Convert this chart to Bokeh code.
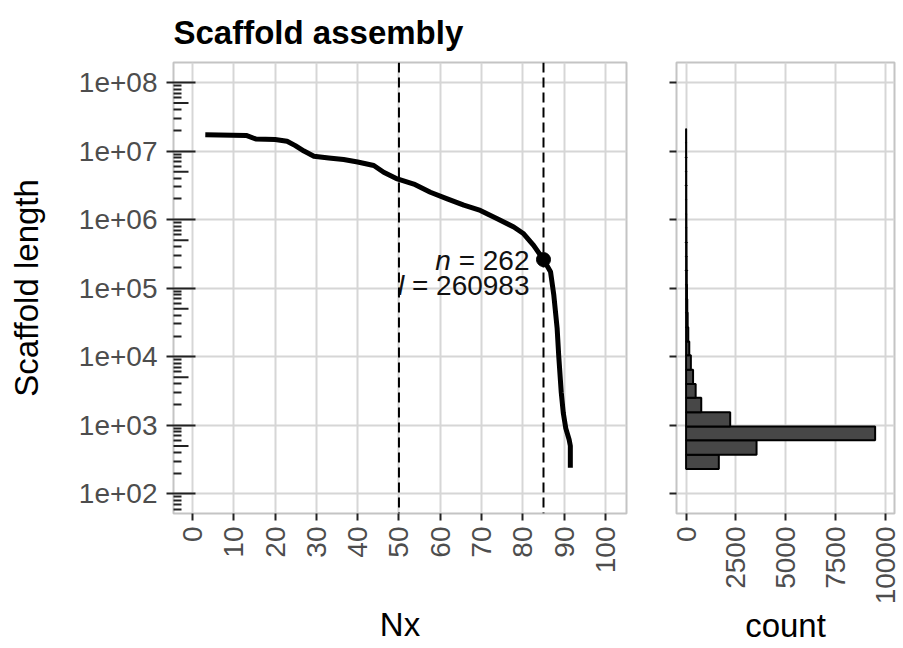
import math
from bokeh.plotting import figure
from bokeh.models import Range1d, FixedTicker, Span, ColumnDataSource
from bokeh.layouts import row
from bokeh.embed import file_html
from bokeh.resources import INLINE
from bokeh.core.properties import value

# ---------------- data ----------------
nx_pct = [3.1, 13.0, 15.3, 20.0, 22.9, 24.9, 27.0, 29.4, 33.0, 36.6, 40.0, 43.9,
          46.3, 49.6, 53.6, 57.6, 61.7, 65.7, 69.7, 73.8, 77.8, 80.2, 82.6, 85.0,
          86.7, 87.5, 88.3, 88.7, 89.3, 89.8, 90.4, 91.2, 91.5, 91.5]
nx_len = [1.73e7, 1.69e7, 1.50e7, 1.47e7, 1.39e7, 1.20e7, 1.00e7, 8.4e6, 7.9e6,
          7.5e6, 6.9e6, 6.15e6, 4.9e6, 3.92e6, 3.3e6, 2.5e6, 2.0e6, 1.62e6,
          1.36e6, 1.03e6, 7.8e5, 6.2e5, 4.2e5, 2.61e5, 1.74e5, 7.9e4, 2.6e4,
          1.0e4, 3.0e3, 1.5e3, 9.0e2, 6.2e2, 5.0e2, 2.4e2]

vlines = [50, 85]
mark_nx = 85
mark_n = 262
mark_l = 260983

hist_log_edges = [2.36, 2.57, 2.78, 2.98, 3.19, 3.40, 3.60, 3.81, 4.02, 4.22,
                  4.43, 4.64, 4.84, 5.05, 5.26, 5.46, 5.67, 5.88, 6.08, 6.29,
                  6.50, 6.70, 6.91, 7.12, 7.32]
hist_counts = [1640, 3530, 9470, 2210, 760, 480, 350, 240, 160, 110, 80, 60,
               45, 35, 28, 22, 17, 13, 10, 8, 6, 4, 3, 2]

y_major = [1e2, 1e3, 1e4, 1e5, 1e6, 1e7, 1e8]
y_labels = ["1e+02", "1e+03", "1e+04", "1e+05", "1e+06", "1e+07", "1e+08"]
x_major = [0, 10, 20, 30, 40, 50, 60, 70, 80, 90, 100]
count_major = [0, 2500, 5000, 7500, 10000]

# ---------------- style ----------------
FONT = "Liberation Sans"
TICK_SIZE = "28px"
TITLE_SIZE = "33px"
GRID = "#d6d6d6"
BORDER = "#c4c4c4"
TICKC = "#222222"
LABC = "#4d4d4d"

y_lo, y_hi = 51.6, 1.955e8
yr = Range1d(y_lo, y_hi)

H = 648
TOP = 60
BOT = 135

# ---------------- main panel ----------------
p = figure(width=636, height=H, x_range=Range1d(-4.6, 105.1), y_range=yr,
           y_axis_type="log", output_backend="svg", toolbar_location=None,
           min_border_left=173, min_border_right=10, min_border_top=TOP,
           min_border_bottom=BOT)
p.outline_line_color = BORDER
p.outline_line_width = 2
p.background_fill_color = "white"

p.title.text = "Scaffold assembly"
p.title.text_font = FONT
p.title.text_font_size = TITLE_SIZE
p.title.text_font_style = "bold"
p.title.text_color = "black"
p.title.standoff = 23

ax = p.yaxis[0]
short_minor = [k * 10 ** d for d in range(1, 9) for k in (2, 3, 4, 6, 7, 8, 9)]
ax.ticker = FixedTicker(ticks=y_major, minor_ticks=short_minor)
ax.major_label_overrides = {v: s for v, s in zip(y_major, y_labels)}
ax.major_tick_in = 22
ax.major_tick_out = 7
ax.minor_tick_in = 8
ax.minor_tick_out = 0
ax.major_tick_line_width = 2
ax.minor_tick_line_width = 2
ax.major_tick_line_color = TICKC
ax.minor_tick_line_color = TICKC
ax.axis_line_color = None
ax.major_label_text_font = FONT
ax.major_label_text_font_size = TICK_SIZE
ax.major_label_text_color = LABC
ax.major_label_standoff = 9
ax.axis_label = "Scaffold length"
ax.axis_label_text_font = FONT
ax.axis_label_text_font_size = TITLE_SIZE
ax.axis_label_text_font_style = "normal"
ax.axis_label_text_color = "black"
ax.axis_label_standoff = 31

bx = p.xaxis[0]
bx.ticker = FixedTicker(ticks=x_major, minor_ticks=[])
bx.major_tick_in = 0
bx.major_tick_out = 7
bx.minor_tick_out = 0
bx.major_tick_line_width = 2
bx.major_tick_line_color = TICKC
bx.axis_line_color = None
bx.major_label_orientation = math.pi / 2
bx.major_label_text_font = FONT
bx.major_label_text_font_size = TICK_SIZE
bx.major_label_text_color = LABC
bx.major_label_standoff = 6
bx.axis_label = "Nx"
bx.axis_label_text_font = FONT
bx.axis_label_text_font_size = TITLE_SIZE
bx.axis_label_text_font_style = "normal"
bx.axis_label_text_color = "black"
bx.axis_label_standoff = 30

for g in (p.xgrid[0], p.ygrid[0]):
    g.grid_line_color = GRID
    g.grid_line_width = 2
p.xgrid[0].ticker = FixedTicker(ticks=x_major)
p.ygrid[0].ticker = FixedTicker(ticks=y_major)

# mid (x5) log ticks, drawn at the panel's left edge
x0 = p.x_range.start
mids = [5 * 10 ** d for d in range(1, 9) if y_lo <= 5 * 10 ** d <= y_hi]
p.scatter(x=[x0] * len(mids), y=mids, marker="dash", size=30,
          line_color=TICKC, line_width=2)

for v in vlines:
    p.add_layout(Span(location=v, dimension="height", line_color="black",
                      line_width=2, line_dash="10 5"))

p.line(nx_pct, nx_len, line_color="black", line_width=5, line_join="round")
p.scatter([mark_nx], [mark_l], size=14, color="black")

# annotation text: italic symbol + regular rest, right aligned
W = {" ": 0.278, "=": 0.584}
def tw(s, size=28):
    return sum(W.get(c, 0.556) for c in s) * size

rest1 = "= %d" % mark_n
rest2 = "= %d" % mark_l
gap = -14
yoffs = [1, 26]
src = ColumnDataSource(dict(x=[mark_nx, mark_nx], y=[mark_l, mark_l],
                            t=[rest1, rest2], yo=yoffs, xo=[gap, gap]))
p.text(x="x", y="y", text="t", x_offset="xo", y_offset="yo", source=src,
       text_align="right", text_baseline="alphabetic",
       text_font=value(FONT), text_font_size=TICK_SIZE, text_color="#111111")
src2 = ColumnDataSource(dict(x=[mark_nx, mark_nx], y=[mark_l, mark_l],
                             t=["n", "l"], yo=yoffs,
                             xo=[gap - tw(" " + rest1), gap - tw(" " + rest2)]))
p.text(x="x", y="y", text="t", x_offset="xo", y_offset="yo", source=src2,
       text_align="right", text_baseline="alphabetic",
       text_font=value(FONT), text_font_size=TICK_SIZE,
       text_font_style="italic", text_color="#111111")

# ---------------- histogram panel ----------------
h = figure(width=267, height=H, x_range=Range1d(-480, 10440), y_range=yr,
           y_axis_type="log", output_backend="svg", toolbar_location=None,
           min_border_left=40, min_border_right=9, min_border_top=TOP,
           min_border_bottom=BOT)
h.outline_line_color = BORDER
h.outline_line_width = 2

hy = h.yaxis[0]
hy.ticker = FixedTicker(ticks=y_major, minor_ticks=[])
hy.major_label_overrides = {v: " " for v in y_major}
hy.major_tick_in = 0
hy.major_tick_out = 7
hy.minor_tick_out = 0
hy.major_tick_line_width = 2
hy.major_tick_line_color = TICKC
hy.axis_line_color = None
hy.major_label_text_font_size = "2px"
hy.major_label_text_color = None
hy.major_label_standoff = 0

hx = h.xaxis[0]
hx.ticker = FixedTicker(ticks=count_major, minor_ticks=[])
hx.major_tick_in = 0
hx.major_tick_out = 7
hx.minor_tick_out = 0
hx.major_tick_line_width = 2
hx.major_tick_line_color = TICKC
hx.axis_line_color = None
hx.major_label_orientation = math.pi / 2
hx.major_label_text_font = FONT
hx.major_label_text_font_size = TICK_SIZE
hx.major_label_text_color = LABC
hx.major_label_standoff = 6
hx.axis_label = "count"
hx.axis_label_text_font = FONT
hx.axis_label_text_font_size = TITLE_SIZE
hx.axis_label_text_font_style = "normal"
hx.axis_label_text_color = "black"
hx.axis_label_standoff = 0

for g in (h.xgrid[0], h.ygrid[0]):
    g.grid_line_color = GRID
    g.grid_line_width = 2
h.xgrid[0].ticker = FixedTicker(ticks=count_major)
h.ygrid[0].ticker = FixedTicker(ticks=y_major)

bottoms = [10 ** e for e in hist_log_edges[:-1]]
tops = [10 ** e for e in hist_log_edges[1:]]
h.quad(left=[0] * len(hist_counts), right=hist_counts, bottom=bottoms, top=tops,
       fill_color="#474747", line_color="black", line_width=2)

layout = row(p, h)
open("out.html", "w").write(file_html(layout, INLINE))
